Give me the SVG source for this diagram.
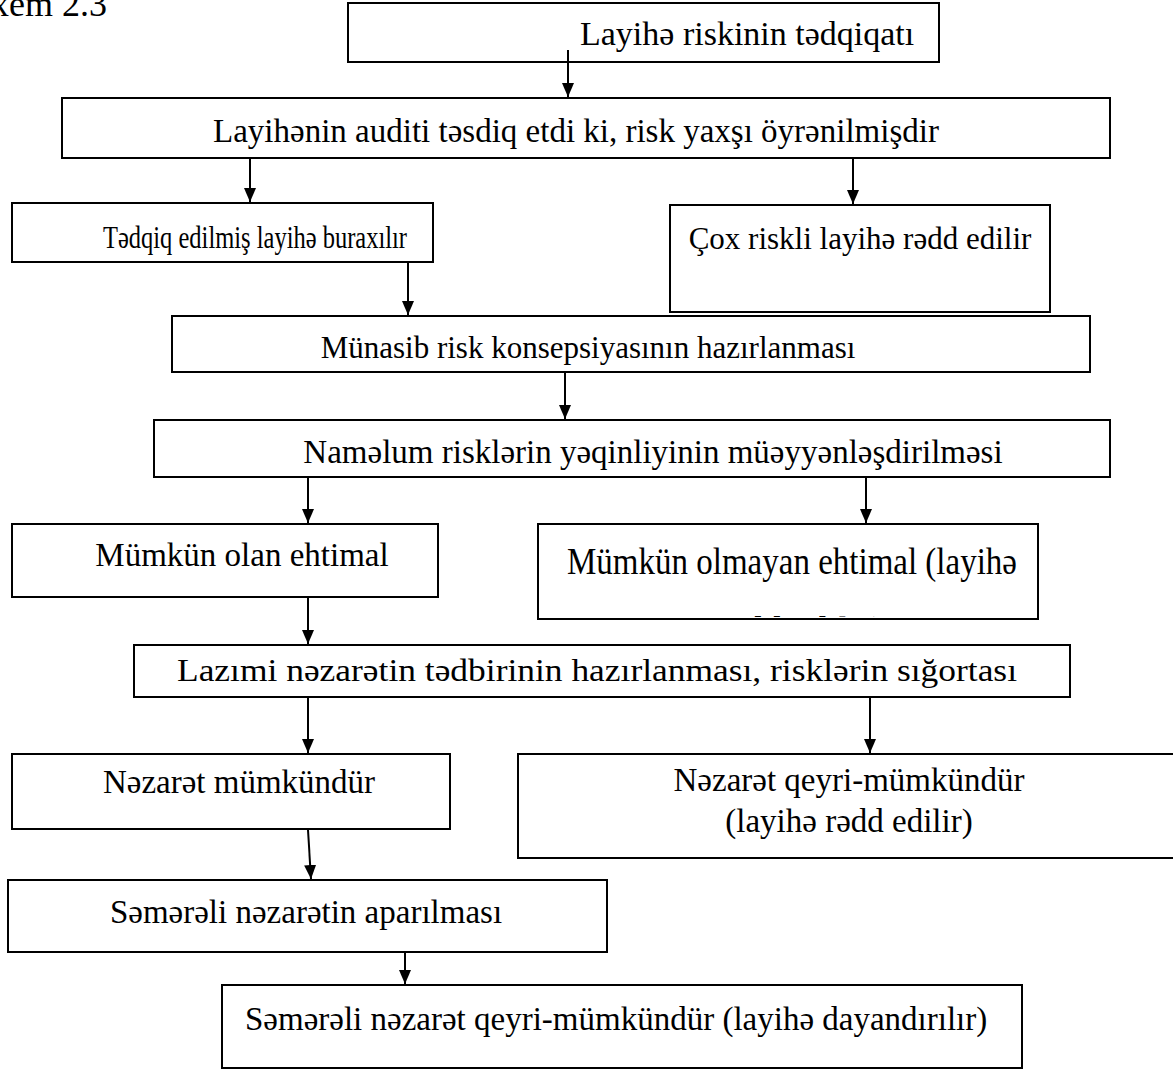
<svg xmlns="http://www.w3.org/2000/svg" width="1173" height="1070" viewBox="0 0 1173 1070">
<style>
.box{fill:#fff;stroke:#000;stroke-width:2}
.t{font-family:"Liberation Serif","Times New Roman",serif;font-size:33px;fill:#000}
.c{text-anchor:middle}
.con line{stroke:#000;stroke-width:2;marker-end:url(#ah)}
</style>
<defs>
<marker id="ah" markerWidth="14" markerHeight="12" refX="14" refY="6" orient="auto" markerUnits="userSpaceOnUse">
<path d="M0,0 L14,6 L0,12 z" fill="#000"/>
</marker>
<clipPath id="clip8"><rect x="539" y="525" width="498" height="92"/></clipPath>
</defs>
<text class="t" x="107" y="16" text-anchor="end" style="font-size:36px">Sxem 2.3</text>
<g id="n1"><rect class="box" x="348" y="3" width="591" height="59"/><text class="t" x="580" y="45" style="font-size:34px">Layihə riskinin tədqiqatı</text></g>
<g id="n2"><rect class="box" x="62" y="98" width="1048" height="60"/><text class="t c" x="576" y="142">Layihənin auditi təsdiq etdi ki, risk yaxşı öyrənilmişdir</text></g>
<g id="n3"><rect class="box" x="12" y="203" width="421" height="59"/><text class="t c" x="255" y="248" style="font-size:31px" textLength="304" lengthAdjust="spacingAndGlyphs">Tədqiq edilmiş layihə buraxılır</text></g>
<g id="n4"><rect class="box" x="670" y="205" width="380" height="107"/><text class="t c" x="860" y="249" style="font-size:31px">Çox riskli layihə rədd edilir</text></g>
<g id="n5"><rect class="box" x="172" y="316" width="918" height="56"/><text class="t c" x="588" y="358" style="font-size:31px">Münasib risk konsepsiyasının hazırlanması</text></g>
<g id="n6"><rect class="box" x="154" y="420" width="956" height="57"/><text class="t c" x="653" y="463">Naməlum risklərin yəqinliyinin müəyyənləşdirilməsi</text></g>
<g id="n7"><rect class="box" x="12" y="524" width="426" height="73"/><text class="t c" x="242" y="566">Mümkün olan ehtimal</text></g>
<g id="n8"><rect class="box" x="538" y="524" width="500" height="95"/><g clip-path="url(#clip8)"><text class="t c" x="792" y="574" style="font-size:38px" textLength="450" lengthAdjust="spacingAndGlyphs">Mümkün olmayan ehtimal (layihə</text><text class="t c" x="800" y="643" style="font-size:38px">rədd edilir)</text></g></g>
<g id="n9"><rect class="box" x="134" y="645" width="936" height="52"/><text class="t c" x="597" y="681" style="font-size:31px" textLength="840" lengthAdjust="spacingAndGlyphs">Lazımi nəzarətin tədbirinin hazırlanması, risklərin sığortası</text></g>
<g id="n10"><rect class="box" x="12" y="754" width="438" height="75"/><text class="t c" x="239" y="793">Nəzarət mümkündür</text></g>
<g id="n11"><rect class="box" x="518" y="754" width="660" height="104"/><text class="t c" x="849" y="791">Nəzarət qeyri-mümkündür</text><text class="t c" x="849" y="832">(layihə rədd edilir)</text></g>
<g id="n12"><rect class="box" x="8" y="880" width="599" height="72"/><text class="t c" x="306" y="923">Səmərəli nəzarətin aparılması</text></g>
<g id="n13"><rect class="box" x="222" y="985" width="800" height="83"/><text class="t" x="245" y="1030">Səmərəli nəzarət qeyri-mümkündür (layihə dayandırılır)</text></g>
<g id="connectors" class="con">
<line x1="568" y1="50" x2="568" y2="97"/>
<line x1="250" y1="158" x2="250" y2="202"/>
<line x1="853" y1="158" x2="853" y2="204"/>
<line x1="408" y1="262" x2="408" y2="315"/>
<line x1="565" y1="372" x2="565" y2="419"/>
<line x1="308" y1="477" x2="308" y2="523"/>
<line x1="866" y1="477" x2="866" y2="523"/>
<line x1="308" y1="597" x2="308" y2="644"/>
<line x1="308" y1="697" x2="308" y2="753"/>
<line x1="870" y1="697" x2="870" y2="753"/>
<line x1="308" y1="830" x2="311" y2="879"/>
<line x1="405" y1="952" x2="405" y2="984"/>
</g>
</svg>
